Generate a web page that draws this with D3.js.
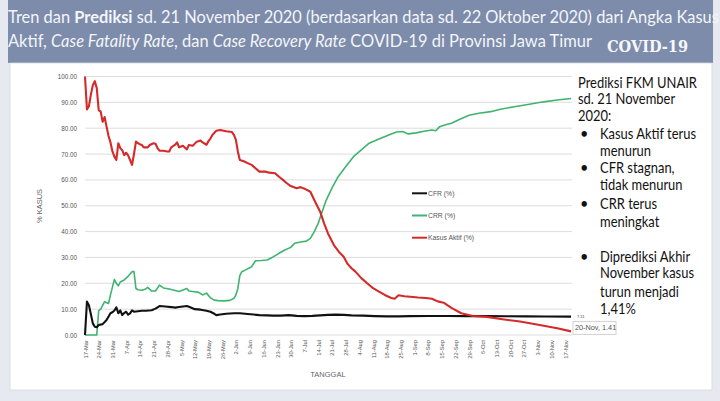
<!DOCTYPE html>
<html><head><meta charset="utf-8">
<script src="https://cdn.jsdelivr.net/npm/d3@7"></script>
<style>html,body{margin:0;padding:0;background:#e6eaf0;}svg{display:block;}</style>
</head><body>
<svg id="c" width="720" height="401"></svg>
<script>
// ---------- DATA ----------
const tickLabels = ["17-Mar","24-Mar","31-Mar","7-Apr","14-Apr","21-Apr","28-Apr","5-May","12-May","19-May","26-May","2-Jun","9-Jun","16-Jun","23-Jun","30-Jun","7-Jul","14-Jul","21-Jul","28-Jul","4-Aug","11-Aug","18-Aug","25-Aug","1-Sep","8-Sep","15-Sep","22-Sep","29-Sep","6-Oct","13-Oct","20-Oct","27-Oct","3-Nov","10-Nov","17-Nov"];
const yTicks = [0,10,20,30,40,50,60,70,80,90,100];

const aktifDates = ["03-17","03-18","03-19","03-20","03-21","03-22","03-23","03-24","03-25","03-26","03-27","03-28","03-29","03-30","03-31","04-01","04-02","04-03","04-04","04-05","04-06","04-07","04-08","04-09","04-10","04-11","04-12","04-13","04-14","04-15","04-16","04-18","04-19","04-21","04-22","04-23","04-24","04-26","04-28","04-29","04-30","05-02","05-03","05-04","05-06","05-08","05-09","05-11","05-13","05-15","05-16","05-18","05-19","05-20","05-21","05-23","05-25","05-28","05-31","06-01","06-02","06-03","06-04","06-06","06-08","06-10","06-12","06-14","06-17","06-19","06-22","06-24","06-26","06-28","06-30","07-03","07-05","07-07","07-10","07-12","07-15","07-17","07-19","07-22","07-25","07-27","07-29","07-31","08-02","08-05","08-08","08-11","08-14","08-17","08-20","08-22","08-24","08-27","08-30","09-03","09-07","09-10","09-13","09-16","09-20","09-25","10-01","10-08","10-16","10-25","11-04","11-13","11-20"];
const aktifValues = [100,87.3,88.5,93,96.6,98.2,95.5,87,86.4,82.5,84.3,80.6,77,74.5,71,69,67.7,74.2,72.3,71.5,69.6,70.5,69.5,67.7,65.8,70,74.8,74.2,73.8,73.5,72.6,72.6,73.5,74.2,74,72.3,71.3,71.3,71,71,72.6,73.6,74.5,72.6,73.2,71.8,73.5,73.2,74.8,75.2,74.5,73.6,75,76,77.4,79,79.3,78.8,78.5,77.4,75.5,71,67.7,67.2,66.5,65.8,64.5,63.2,63.2,62.8,62.6,61.2,60,58.7,57.6,56.8,57.2,56.6,55.4,52.2,47.7,43.2,39.3,34.8,31.8,30.3,27.5,25.8,24.5,22,20,18.1,16.8,15.5,14.4,14.0,15.4,15.0,14.8,14.5,14.3,14.0,13.0,12.5,10.5,8.4,7.35,7.0,6.1,5.2,3.9,2.6,1.41];

const crrDates = ["03-17","03-23","03-24","03-25","03-26","03-27","03-28","03-29","03-30","04-01","04-02","04-03","04-04","04-06","04-08","04-10","04-11","04-12","04-13","04-15","04-17","04-18","04-20","04-22","04-24","04-26","04-29","05-02","05-04","05-08","05-09","05-11","05-14","05-16","05-18","05-20","05-22","05-24","05-27","05-30","06-01","06-02","06-03","06-04","06-05","06-07","06-10","06-12","06-15","06-18","06-21","06-24","06-27","06-30","07-02","07-05","07-08","07-10","07-12","07-14","07-16","07-18","07-21","07-24","07-28","08-01","08-05","08-09","08-14","08-19","08-23","08-26","08-29","09-02","09-06","09-10","09-12","09-14","09-17","09-20","09-24","09-29","10-04","10-10","10-15","10-22","10-29","11-06","11-13","11-20"];
const crrValues = [0,0,9.4,10,11.5,12.9,12.5,12.2,15.5,21.5,20,19,20.5,21.3,22.7,24.5,24.5,18,17.5,17.3,17.8,18.4,17,17,19.3,18.2,17.8,17.2,16.8,18,17,16.8,16.5,15.5,16.2,14.4,13.5,13.3,13.2,13.4,14.2,15.5,18,23,24.5,25.2,26.4,28.7,28.8,29,30.2,31.6,32.9,33.9,35.5,36,36.3,37.4,40,43.2,47.7,52,56.8,61,65.1,69,71.6,74.2,75.8,77.4,78.5,78.7,77.8,78.2,78.8,79.3,79.0,80.6,81.3,81.9,83.4,85.0,85.8,86.4,87.3,88.3,89.2,90.2,90.9,91.5];

const cfrDates = ["03-17","03-18","03-19","03-20","03-21","03-22","03-23","03-24","03-26","03-28","03-30","03-31","04-01","04-02","04-03","04-04","04-05","04-06","04-07","04-08","04-09","04-10","04-11","04-13","04-15","04-17","04-20","04-22","04-24","04-27","04-30","05-02","05-04","05-06","05-08","05-10","05-12","05-15","05-18","05-20","05-22","05-23","05-25","05-28","06-01","06-04","06-08","06-11","06-14","06-18","06-21","06-25","06-29","07-03","07-07","07-11","07-15","07-19","07-23","07-27","07-31","08-06","08-12","08-18","08-24","08-30","09-08","09-18","09-28","10-08","10-18","10-28","11-07","11-20"];
const cfrValues = [0,12.9,11.5,8,4.5,3.2,3.0,3.9,4.2,5.8,8.4,8.8,9.5,10.7,8.4,9.5,7.7,8.5,9.0,7.9,8.4,9.5,9.0,9.2,9.4,9.4,9.6,10.2,11.2,11.0,10.8,10.6,10.8,11.0,11.2,10.6,10.0,9.8,9.4,9.0,8.2,7.7,7.9,8.2,8.4,8.4,8.1,7.9,7.7,7.6,7.5,7.5,7.7,7.4,7.3,7.4,7.6,7.8,7.9,7.8,7.6,7.5,7.3,7.2,7.2,7.3,7.35,7.35,7.3,7.3,7.25,7.2,7.15,7.11];

const seriesNames = ["CFR (%)","CRR (%)","Kasus Aktif (%)"];
const seriesColors = ["#111111","#3fb36f","#d42a2a"];

// ---------- DRAW ----------
const svg = d3.select("#c");
const parse = d3.timeParse("%Y-%m-%d");
const pd = s => parse("2020-" + s);
const parseTick = d3.timeParse("%d-%b-%Y");

svg.append("rect").attr("x",0).attr("y",0).attr("width",720).attr("height",401).attr("fill","#e6eaf0");
svg.append("rect").attr("x",8).attr("y",0).attr("width",705).attr("height",63).attr("fill","#7d8cab");
svg.append("rect").attr("x",10).attr("y",63).attr("width",702).attr("height",327).attr("fill","#ffffff").attr("stroke","#d3d8e0").attr("stroke-width",0.8);

const x = d3.scaleTime().domain([pd("03-17"), pd("11-20")]).range([85, 571]);
const y = d3.scaleLinear().domain([0,100]).range([335, 76.5]);

svg.append("g").selectAll("line").data(yTicks).join("line")
  .attr("x1",85).attr("x2",572).attr("y1",d=>y(d)).attr("y2",d=>y(d))
  .attr("stroke","#d9d9d9").attr("stroke-width",0.9);

const yAxis = d3.axisLeft(y).tickValues(yTicks).tickFormat(d3.format(".2f")).tickSize(0).tickPadding(0);
const ya = svg.append("g").attr("transform","translate(77,0)").call(yAxis);
ya.select(".domain").remove();
ya.selectAll("text").attr("font-family","Liberation Sans, Arial, sans-serif").attr("font-size",6.3).attr("fill","#555");

const tickDates = tickLabels.map(t => parseTick(t + "-2020"));
const xAxis = d3.axisBottom(x).tickValues(tickDates).tickFormat((d,i)=>tickLabels[i]).tickSize(0).tickPadding(0);
const xa = svg.append("g").attr("transform","translate(0,340)").call(xAxis);
xa.select(".domain").remove();
xa.selectAll("text").attr("font-family","Liberation Sans, Arial, sans-serif").attr("font-size",5.8).attr("fill","#555")
  .attr("text-anchor","end").attr("transform","rotate(-90)").attr("dx",0).attr("dy","0.35em").attr("x",0).attr("y",0);

svg.append("text").attr("x",328).attr("y",377).attr("text-anchor","middle")
  .attr("font-family","Liberation Sans, Arial, sans-serif").attr("font-size",7.5).attr("fill","#666").text("TANGGAL");
svg.append("text").attr("transform","translate(42,206) rotate(-90)").attr("text-anchor","middle")
  .attr("font-family","Liberation Sans, Arial, sans-serif").attr("font-size",7.5).attr("fill","#666").text("% KASUS");

const line = d3.line().x(d=>x(d[0])).y(d=>y(d[1])).curve(d3.curveLinear);
const mk = (ds, vs) => ds.map((d,i)=>[pd(d), vs[i]]);
const series = [mk(cfrDates,cfrValues), mk(crrDates,crrValues), mk(aktifDates,aktifValues)];
const widths = [2.1, 1.6, 2.1];
[1,0,2].forEach(i=>{
  svg.append("path").datum(series[i]).attr("d",line).attr("fill","none")
    .attr("stroke",seriesColors[i]).attr("stroke-width",widths[i]).attr("stroke-linejoin","round");
});

const lg = svg.append("g");
seriesNames.forEach((n,i)=>{
  const yy = 193.3 + i*22.2;
  lg.append("line").attr("x1",412).attr("x2",427).attr("y1",yy).attr("y2",yy).attr("stroke",seriesColors[i]).attr("stroke-width",2);
  lg.append("text").attr("x",428).attr("y",yy).attr("dy","0.35em").attr("font-family","Liberation Sans, Arial, sans-serif")
    .attr("font-size",6.8).attr("fill","#555").text(n);
});

const lastCfr = series[0][series[0].length-1];
svg.append("text").attr("x",x(lastCfr[0])+6).attr("y",y(lastCfr[1])+1.5).attr("font-family","Liberation Sans, Arial, sans-serif")
  .attr("font-size",4).attr("fill","#444").text(d3.format(".2f")(lastCfr[1]));
const lastAk = series[2][series[2].length-1];
const lbl = svg.append("g");
lbl.append("rect").attr("x",x(lastAk[0])+2).attr("y",y(lastAk[1])-10).attr("width",43).attr("height",13).attr("fill","#fff").attr("stroke","#c8c8c8").attr("stroke-width",0.8);
lbl.append("text").attr("x",x(lastAk[0])+4).attr("y",y(lastAk[1])-3.5).attr("dy","0.35em").attr("font-family","Liberation Sans, Arial, sans-serif")
  .attr("font-size",7.3).attr("fill","#555").text("20-Nov, " + d3.format(".2f")(lastAk[1]));

// right annotation
const noteFont = "Lato, 'Open Sans', sans-serif";
const notes = [
  {t:"Prediksi FKM UNAIR", x:578, y:82.7},
  {t:"sd. 21 November", x:578, y:99.3},
  {t:"2020:", x:578, y:116},
  {t:"Kasus Aktif terus", x:600, y:134, b:true},
  {t:"menurun", x:600, y:150.7},
  {t:"CFR stagnan,", x:600, y:168.3, b:true},
  {t:"tidak menurun", x:600, y:185.3},
  {t:"CRR terus", x:600, y:204, b:true},
  {t:"meningkat", x:600, y:221.7},
  {t:"Diprediksi Akhir", x:600, y:256.7, b:true},
  {t:"November kasus", x:600, y:273.3},
  {t:"turun menjadi", x:600, y:292.3},
  {t:"1,41%", x:600, y:309.3}
];
const ng = svg.append("g");
const noteTexts = notes.map(n=>{
  if(n.b) ng.append("text").attr("x",580).attr("y",n.y).attr("dy","0.35em").attr("font-family",noteFont)
    .attr("font-size",14.5).attr("fill","#111").text("•");
  return ng.append("text").attr("transform",`translate(${n.x},${n.y})`).attr("dy","0.35em").attr("font-family",noteFont)
    .attr("font-size",14.5).attr("fill","#111").text(n.t);
});
const sx = 119 / noteTexts[0].node().getComputedTextLength();
notes.forEach((n,i)=> noteTexts[i].attr("transform",`translate(${n.x},${n.y}) scale(${sx},1)`));

// title
const tf = "Lato, 'Open Sans', sans-serif";
const t1 = svg.append("text").attr("x",8).attr("y",23).attr("font-family",tf).attr("font-size",15).attr("fill","#f3f5f9");
t1.append("tspan").text("Tren dan ");
t1.append("tspan").attr("font-weight","bold").text("Prediksi");
t1.append("tspan").text(" sd. 21 November 2020 (berdasarkan data sd. 22 Oktober 2020) dari Angka Kasus");
const t2 = svg.append("text").attr("x",8).attr("y",47).attr("font-family",tf).attr("font-size",15).attr("fill","#f3f5f9");
t2.append("tspan").text("Aktif, ");
t2.append("tspan").attr("font-style","italic").text("Case Fatality Rate");
t2.append("tspan").text(", dan ");
t2.append("tspan").attr("font-style","italic").text("Case Recovery Rate");
t2.append("tspan").text(" COVID-19 di Provinsi Jawa Timur");
function fit(sel, w){ const cur = sel.node().getComputedTextLength(); const fs = +sel.attr("font-size"); sel.attr("font-size", fs*w/cur); }
fit(t1, 711); fit(t2, 584);
svg.append("text").attr("x",607).attr("y",52).attr("font-family","'DejaVu Serif', 'Liberation Serif', serif").attr("font-weight","bold")
  .attr("font-size",16).attr("fill","#f6f7fa").attr("textLength",81).attr("lengthAdjust","spacingAndGlyphs").text("COVID-19");
</script>
</body></html>
